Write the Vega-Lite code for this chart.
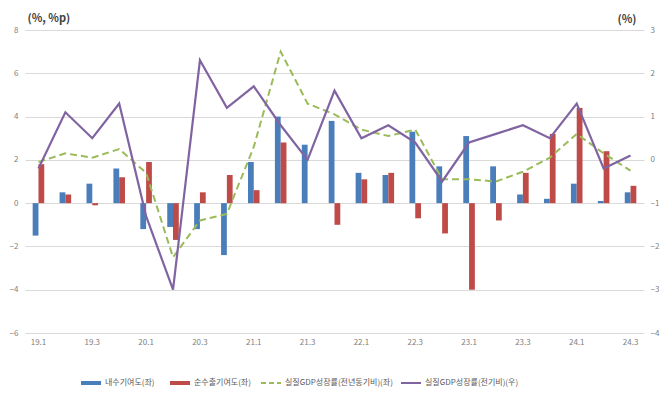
{
  "$schema": "https://vega.github.io/schema/vega-lite/v6.json",
  "width": 619,
  "height": 303,
  "autosize": {"type": "none"},
  "padding": {"left": 25, "top": 30, "right": 27, "bottom": 60},
  "background": "white",
  "config": {
    "view": {"stroke": null},
    "font": "Noto Sans CJK KR",
    "axis": {"labelColor": "#808080", "labelFontSize": 8, "domain": false, "ticks": false, "labelFont": "Noto Sans CJK KR"},
    "legend": {"padding": 0, "labelFontSize": 8, "labelColor": "#595959", "labelFont": "Noto Sans CJK KR", "labelOffset": 3, "orient": "none", "direction": "horizontal", "title": null}
  },
  "datasets": {
    "bars": [
      {"period": "19.1", "series": "내수기여도(좌)", "value": -1.5},
      {"period": "19.1", "series": "순수출기여도(좌)", "value": 1.8},
      {"period": "19.2", "series": "내수기여도(좌)", "value": 0.5},
      {"period": "19.2", "series": "순수출기여도(좌)", "value": 0.4},
      {"period": "19.3", "series": "내수기여도(좌)", "value": 0.9},
      {"period": "19.3", "series": "순수출기여도(좌)", "value": -0.1},
      {"period": "19.4", "series": "내수기여도(좌)", "value": 1.6},
      {"period": "19.4", "series": "순수출기여도(좌)", "value": 1.2},
      {"period": "20.1", "series": "내수기여도(좌)", "value": -1.2},
      {"period": "20.1", "series": "순수출기여도(좌)", "value": 1.9},
      {"period": "20.2", "series": "내수기여도(좌)", "value": -1.1},
      {"period": "20.2", "series": "순수출기여도(좌)", "value": -1.7},
      {"period": "20.3", "series": "내수기여도(좌)", "value": -1.2},
      {"period": "20.3", "series": "순수출기여도(좌)", "value": 0.5},
      {"period": "20.4", "series": "내수기여도(좌)", "value": -2.4},
      {"period": "20.4", "series": "순수출기여도(좌)", "value": 1.3},
      {"period": "21.1", "series": "내수기여도(좌)", "value": 1.9},
      {"period": "21.1", "series": "순수출기여도(좌)", "value": 0.6},
      {"period": "21.2", "series": "내수기여도(좌)", "value": 4.0},
      {"period": "21.2", "series": "순수출기여도(좌)", "value": 2.8},
      {"period": "21.3", "series": "내수기여도(좌)", "value": 2.7},
      {"period": "21.3", "series": "순수출기여도(좌)", "value": 0.0},
      {"period": "21.4", "series": "내수기여도(좌)", "value": 3.8},
      {"period": "21.4", "series": "순수출기여도(좌)", "value": -1.0},
      {"period": "22.1", "series": "내수기여도(좌)", "value": 1.4},
      {"period": "22.1", "series": "순수출기여도(좌)", "value": 1.1},
      {"period": "22.2", "series": "내수기여도(좌)", "value": 1.3},
      {"period": "22.2", "series": "순수출기여도(좌)", "value": 1.4},
      {"period": "22.3", "series": "내수기여도(좌)", "value": 3.3},
      {"period": "22.3", "series": "순수출기여도(좌)", "value": -0.7},
      {"period": "22.4", "series": "내수기여도(좌)", "value": 1.7},
      {"period": "22.4", "series": "순수출기여도(좌)", "value": -1.4},
      {"period": "23.1", "series": "내수기여도(좌)", "value": 3.1},
      {"period": "23.1", "series": "순수출기여도(좌)", "value": -4.0},
      {"period": "23.2", "series": "내수기여도(좌)", "value": 1.7},
      {"period": "23.2", "series": "순수출기여도(좌)", "value": -0.8},
      {"period": "23.3", "series": "내수기여도(좌)", "value": 0.4},
      {"period": "23.3", "series": "순수출기여도(좌)", "value": 1.4},
      {"period": "23.4", "series": "내수기여도(좌)", "value": 0.2},
      {"period": "23.4", "series": "순수출기여도(좌)", "value": 3.2},
      {"period": "24.1", "series": "내수기여도(좌)", "value": 0.9},
      {"period": "24.1", "series": "순수출기여도(좌)", "value": 4.4},
      {"period": "24.2", "series": "내수기여도(좌)", "value": 0.1},
      {"period": "24.2", "series": "순수출기여도(좌)", "value": 2.4},
      {"period": "24.3", "series": "내수기여도(좌)", "value": 0.5},
      {"period": "24.3", "series": "순수출기여도(좌)", "value": 0.8}
    ],
    "lines": [
      {"period": "19.1", "yoy": 1.9, "qoq": -0.2},
      {"period": "19.2", "yoy": 2.3, "qoq": 1.1},
      {"period": "19.3", "yoy": 2.1, "qoq": 0.5},
      {"period": "19.4", "yoy": 2.5, "qoq": 1.3},
      {"period": "20.1", "yoy": 1.4, "qoq": -1.3},
      {"period": "20.2", "yoy": -2.5, "qoq": -3.0},
      {"period": "20.3", "yoy": -0.8, "qoq": 2.3},
      {"period": "20.4", "yoy": -0.5, "qoq": 1.2},
      {"period": "21.1", "yoy": 2.6, "qoq": 1.7},
      {"period": "21.2", "yoy": 7.0, "qoq": 0.8},
      {"period": "21.3", "yoy": 4.6, "qoq": 0.0},
      {"period": "21.4", "yoy": 4.1, "qoq": 1.6},
      {"period": "22.1", "yoy": 3.4, "qoq": 0.5},
      {"period": "22.2", "yoy": 3.1, "qoq": 0.8},
      {"period": "22.3", "yoy": 3.4, "qoq": 0.4},
      {"period": "22.4", "yoy": 1.1, "qoq": -0.5},
      {"period": "23.1", "yoy": 1.1, "qoq": 0.4},
      {"period": "23.2", "yoy": 1.0, "qoq": 0.6},
      {"period": "23.3", "yoy": 1.45, "qoq": 0.8},
      {"period": "23.4", "yoy": 2.1, "qoq": 0.5},
      {"period": "24.1", "yoy": 3.2, "qoq": 1.3},
      {"period": "24.2", "yoy": 2.3, "qoq": -0.2},
      {"period": "24.3", "yoy": 1.5, "qoq": 0.1}
    ]
  },
  "layer": [
    {
      "data": {"name": "bars"},
      "mark": {"type": "bar"},
      "encoding": {
        "x": {
          "field": "period", "type": "nominal",
          "scale": {"domain": ["19.1","19.2","19.3","19.4","20.1","20.2","20.3","20.4","21.1","21.2","21.3","21.4","22.1","22.2","22.3","22.4","23.1","23.2","23.3","23.4","24.1","24.2","24.3"], "paddingInner": 0.57, "paddingOuter": 0.285},
          "axis": {"title": null, "labelAngle": 0, "labelPadding": 5, "values": ["19.1","19.3","20.1","20.3","21.1","21.3","22.1","22.3","23.1","23.3","24.1","24.3"]}
        },
        "xOffset": {"field": "series", "type": "nominal", "scale": {"domain": ["내수기여도(좌)", "순수출기여도(좌)"], "paddingInner": 0, "paddingOuter": 0}},
        "y": {
          "field": "value", "type": "quantitative",
          "scale": {"domain": [-6, 8], "nice": false, "zero": false},
          "axis": {"values": [-6,-4,-2,0,2,4,6,8], "grid": true, "gridColor": "#d9d9d9", "labelPadding": 7, "title": "(%, %p)", "titleAngle": 0, "titleX": 2, "titleY": -12, "titleAlign": "left", "titleBaseline": "middle", "titleFontSize": 11, "titleFontWeight": "bold", "titleColor": "#404040", "titleFont": "Noto Sans CJK KR"}
        },
        "color": {
          "field": "series", "type": "nominal",
          "scale": {"domain": ["내수기여도(좌)", "순수출기여도(좌)"], "range": ["#4a7ebb", "#be4b48"]},
          "legend": {"legendX": 55, "legendY": 342, "symbolType": "M-1,-0.2H1V0.2H-1Z", "symbolSize": 400, "columnPadding": 14}
        }
      }
    },
    {
      "data": {"name": "lines"},
      "mark": {"type": "line", "strokeWidth": 2, "strokeDash": [7, 4]},
      "encoding": {
        "x": {"field": "period", "type": "nominal"},
        "y": {"field": "yoy", "type": "quantitative", "scale": {"domain": [-6, 8], "nice": false, "zero": false}, "axis": null},
        "color": {
          "datum": "실질GDP성장률(전년동기비)(좌)",
          "scale": {"domain": ["실질GDP성장률(전년동기비)(좌)"], "range": ["#9bbb59"]},
          "legend": {"legendX": 235, "legendY": 342, "symbolType": "stroke", "symbolSize": 400, "symbolStrokeWidth": 2, "symbolDash": [5, 3]}
        }
      }
    },
    {
      "data": {"name": "lines"},
      "mark": {"type": "line", "strokeWidth": 2.2},
      "encoding": {
        "x": {"field": "period", "type": "nominal"},
        "y": {
          "field": "qoq", "type": "quantitative",
          "scale": {"domain": [-4, 3], "nice": false, "zero": false},
          "axis": {"orient": "right", "values": [-4,-3,-2,-1,0,1,2,3], "grid": false, "labelPadding": 6, "title": "(%)", "titleAngle": 0, "titleX": -8, "titleY": -11, "titleAlign": "right", "titleBaseline": "middle", "titleFontSize": 11, "titleFontWeight": "bold", "titleColor": "#404040", "titleFont": "Noto Sans CJK KR"}
        },
        "color": {
          "datum": "실질GDP성장률(전기비)(우)",
          "scale": {"domain": ["실질GDP성장률(전기비)(우)"], "range": ["#8064a2"]},
          "legend": {"legendX": 375, "legendY": 342, "symbolType": "stroke", "symbolSize": 400, "symbolStrokeWidth": 2}
        }
      }
    }
  ],
  "resolve": {"scale": {"y": "independent", "color": "independent"}}
}
